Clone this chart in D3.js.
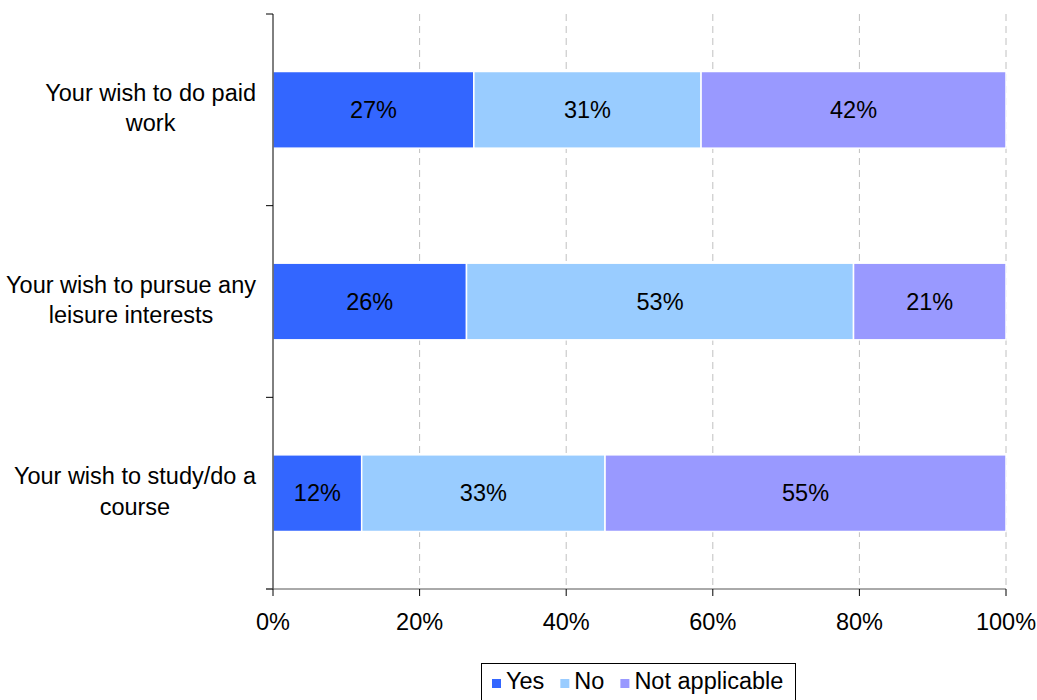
<!DOCTYPE html>
<html>
<head>
<meta charset="utf-8">
<script src="https://cdn.jsdelivr.net/npm/d3@7"></script>
<style>
  html, body { margin: 0; padding: 0; background: #fff; }
  svg { display: block; }
  text { font-family: "Liberation Sans", Arial, sans-serif; fill: #000; }
</style>
</head>
<body>
<svg id="chart" width="1037" height="700"></svg>
<script>
const categories = [
  ["Your wish to do paid", "work"],
  ["Your wish to pursue any", "leisure interests"],
  ["Your wish to study/do a", "course"]
];
const seriesNames = ["Yes", "No", "Not applicable"];
const yesValues = [27.4, 26.4, 12.1];
const noValues = [31.0, 52.8, 33.2];
const naValues = [41.6, 20.8, 54.7];
const tickValues = [0, 20, 40, 60, 80, 100];
const colors = ["#3366FF", "#99CCFF", "#9999FF"];

const svg = d3.select("#chart");
const fontSize = 23.5;
const mLeft = 273, mRight = 1006, mTop = 14, mBottom = 589;

const x = d3.scaleLinear().domain([0, 100]).range([mLeft, mRight]);
const y = d3.scaleBand().domain(d3.range(categories.length)).range([mTop, mBottom]).paddingInner(0.6).paddingOuter(0.3);
const yOuter = d3.scaleBand().domain(d3.range(categories.length)).range([mTop, mBottom]);

// gridlines
svg.append("g").selectAll("line").data(tickValues.filter(d => d > 0)).join("line")
  .attr("x1", d => x(d)).attr("x2", d => x(d))
  .attr("y1", mTop).attr("y2", mBottom)
  .attr("stroke", "#c0c0c0").attr("stroke-width", 1)
  .attr("stroke-dasharray", "7,5");

// stacked data
const rows = categories.map((c, i) => ({ i, Yes: yesValues[i], No: noValues[i], "Not applicable": naValues[i] }));
const stack = d3.stack().keys(seriesNames)(rows);

const layers = svg.append("g").selectAll("g").data(stack).join("g")
  .attr("fill", (d, k) => colors[k]);
layers.selectAll("rect").data(d => d).join("rect")
  .attr("x", d => x(d[0]))
  .attr("width", d => x(d[1]) - x(d[0]))
  .attr("y", d => y(d.data.i))
  .attr("height", y.bandwidth())
  .attr("stroke", "#fff").attr("stroke-width", 1.5);

// value labels
const labels = svg.append("g");
stack.forEach(layer => {
  layer.forEach(d => {
    labels.append("text")
      .attr("x", (x(d[0]) + x(d[1])) / 2)
      .attr("y", y(d.data.i) + y.bandwidth() / 2)
      .attr("dy", "0.35em")
      .attr("text-anchor", "middle")
      .attr("font-size", fontSize)
      .text(Math.round(d[1] - d[0]) + "%");
  });
});

// y axis
const yAxis = svg.append("g");
yAxis.append("line").attr("x1", mLeft).attr("x2", mLeft).attr("y1", mTop).attr("y2", mBottom).attr("stroke", "#000");
const yTicks = yOuter.domain().map(i => yOuter(i)).concat([mBottom]);
yAxis.selectAll("line.tick").data(yTicks).join("line").attr("class", "tick")
  .attr("x1", mLeft - 7).attr("x2", mLeft).attr("y1", d => d).attr("y2", d => d)
  .attr("stroke", "#000");

// category labels (block right-aligned, lines centered)
categories.forEach((lines, i) => {
  const cy = yOuter(i) + yOuter.bandwidth() / 2;
  const g = svg.append("g");
  const lineH = 30.5;
  const ts = lines.map((t, j) => g.append("text")
    .attr("font-size", fontSize)
    .attr("text-anchor", "middle")
    .attr("y", cy + (j - (lines.length - 1) / 2) * lineH)
    .attr("dy", "0.27em")
    .text(t));
  const w = d3.max(ts, t => t.node().getComputedTextLength());
  const cx = 256 - w / 2;
  ts.forEach(t => t.attr("x", cx));
});

// x axis
const xAxis = svg.append("g");
xAxis.append("line").attr("x1", mLeft - 7).attr("x2", mRight).attr("y1", mBottom).attr("y2", mBottom).attr("stroke", "#555");
xAxis.selectAll("line.tick").data(tickValues).join("line").attr("class", "tick")
  .attr("x1", d => x(d)).attr("x2", d => x(d)).attr("y1", mBottom).attr("y2", mBottom + 7)
  .attr("stroke", "#000");
xAxis.selectAll("text").data(tickValues).join("text")
  .attr("x", d => x(d)).attr("y", 630)
  .attr("text-anchor", "middle").attr("font-size", fontSize)
  .text(d => d + "%");

// legend
const lg = svg.append("g");
lg.append("rect").attr("x", 481.5).attr("y", 663.5).attr("width", 314).attr("height", 45)
  .attr("fill", "#fff").attr("stroke", "#000").attr("stroke-width", 1);
let lx = 492;
seriesNames.forEach((name, k) => {
  lg.append("rect").attr("x", lx).attr("y", 679).attr("width", 9).attr("height", 9).attr("fill", colors[k]);
  const t = lg.append("text").attr("x", lx + 14).attr("y", 689).attr("font-size", fontSize).text(name);
  lx += 14 + t.node().getComputedTextLength() + 16;
});
</script>
</body>
</html>
